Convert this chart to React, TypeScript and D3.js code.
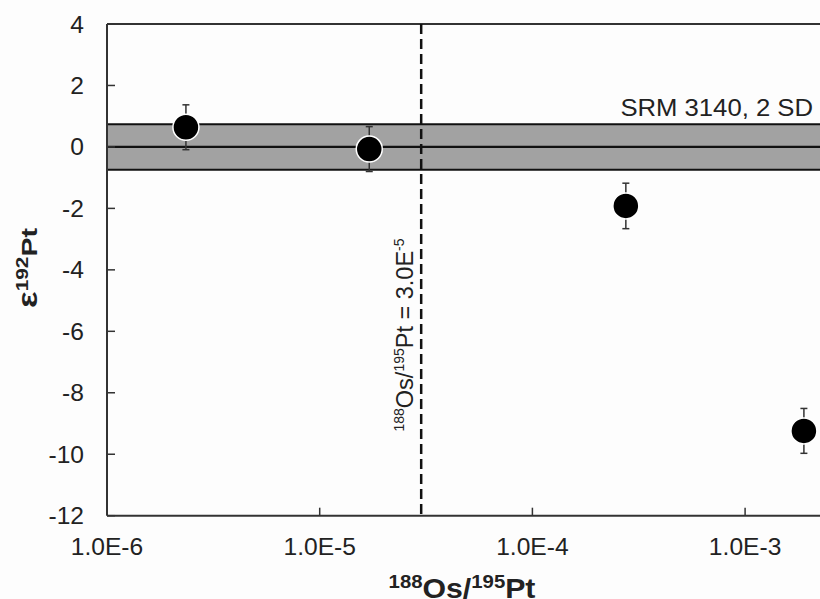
import React from "react";
import * as d3 from "d3";

const ratios = [2.35e-6, 1.71e-5, 2.75e-4, 1.89e-3];
const epsilon = [0.64, -0.07, -1.92, -9.24];
const errors = [0.73, 0.73, 0.74, 0.73];
const yTicks = [4, 2, 0, -2, -4, -6, -8, -10, -12];
const xTicks = [1e-6, 1e-5, 1e-4, 1e-3];
const xTickLabels = ["1.0E-6", "1.0E-5", "1.0E-4", "1.0E-3"];
const bandHalf = 0.74;
const cutoff = 3.0e-5;

const W = 820;
const H = 599;
const FONT = "'Liberation Sans', Arial, sans-serif";
const SX = 1.07;

export default function App() {
  const x = d3.scaleLog().domain([1e-6, 1e-2]).range([107, 107 + 4 * 212.7]);
  const y = d3.scaleLinear().domain([-12, 4]).range([515.7, 24]);
  const x0 = 107;
  const x1 = W;
  const axisColor = "#333";

  const Stretch = ({ tx, ty, anchor, size, weight, children }: any) => (
    <text
      transform={`translate(${tx},${ty}) scale(${SX},1)`}
      textAnchor={anchor}
      fontSize={size}
      fontWeight={weight}
      fontFamily={FONT}
      fill="#222"
    >
      {children}
    </text>
  );

  return (
    <svg width={W} height={H} style={{ position: "absolute", left: 0, top: 0, background: "#fff" }}>
      <rect x={0} y={0} width={W} height={H} fill="#fdfdfd" />
      {/* band */}
      <rect x={x0} y={y(bandHalf)} width={x1 - x0} height={y(-bandHalf) - y(bandHalf)} fill="#a2a2a2" />
      <line x1={x0} x2={x1} y1={y(bandHalf)} y2={y(bandHalf)} stroke="#111" strokeWidth={2} />
      <line x1={x0} x2={x1} y1={y(-bandHalf)} y2={y(-bandHalf)} stroke="#111" strokeWidth={2} />
      <line x1={x0} x2={x1} y1={y(0)} y2={y(0)} stroke="#111" strokeWidth={2.2} />
      {/* frame */}
      <line x1={x0} x2={x1} y1={y(4)} y2={y(4)} stroke={axisColor} strokeWidth={2} />
      <line x1={x0} x2={x0} y1={y(4)} y2={y(-12)} stroke={axisColor} strokeWidth={2} />
      <line x1={x0} x2={x1} y1={y(-12)} y2={y(-12)} stroke={axisColor} strokeWidth={2} />
      {/* y ticks */}
      {yTicks.map((t) => (
        <g key={t}>
          <line x1={x0} x2={x0 + 8} y1={y(t)} y2={y(t)} stroke={axisColor} strokeWidth={1.5} />
          <Stretch tx={84} ty={y(t) + 8.5} anchor="end" size={23}>
            {t}
          </Stretch>
        </g>
      ))}
      {/* x ticks */}
      {xTicks.map((t, i) => (
        <g key={t}>
          {i > 0 && <line x1={x(t)} x2={x(t)} y1={y(-12)} y2={y(-12) - 8} stroke={axisColor} strokeWidth={1.5} />}
          <Stretch tx={x(t)} ty={555} anchor="middle" size={23}>
            {xTickLabels[i]}
          </Stretch>
        </g>
      ))}
      {/* dashed cutoff */}
      <line
        x1={x(cutoff)}
        x2={x(cutoff)}
        y1={y(4)}
        y2={y(-12)}
        stroke="#111"
        strokeWidth={2.5}
        strokeDasharray="10,5"
      />
      <text
        transform={`translate(${x(cutoff) - 8},335) rotate(-90)`}
        textAnchor="middle"
        fontSize={23.5}
        fontFamily={FONT}
        fill="#222"
      >
        <tspan fontSize={14} dy={-9}>188</tspan>
        <tspan dy={9}>Os/</tspan>
        <tspan fontSize={14} dy={-9}>195</tspan>
        <tspan dy={9}>{"Pt = 3.0E"}</tspan>
        <tspan fontSize={14} dy={-9}>-5</tspan>
      </text>
      {/* SRM label */}
      <Stretch tx={813} ty={116} anchor="end" size={24}>
        SRM 3140, 2 SD
      </Stretch>
      {/* points */}
      {ratios.map((r, i) => {
        const cx = x(r);
        const cy = y(epsilon[i]);
        const yt = y(epsilon[i] + errors[i]);
        const yb = y(epsilon[i] - errors[i]);
        return (
          <g key={i}>
            <line x1={cx} x2={cx} y1={yt} y2={yb} stroke="#333" strokeWidth={1.5} />
            <line x1={cx - 3.5} x2={cx + 3.5} y1={yt} y2={yt} stroke="#333" strokeWidth={1.5} />
            <line x1={cx - 3.5} x2={cx + 3.5} y1={yb} y2={yb} stroke="#333" strokeWidth={1.5} />
            <circle cx={cx} cy={cy} r={13} fill="#000" stroke="#fff" strokeWidth={1.5} />
          </g>
        );
      })}
      {/* y title */}
      <text
        transform={`translate(37,268) rotate(-90) scale(1.3,1)`}
        textAnchor="middle"
        fontSize={22}
        fontWeight="bold"
        fontFamily={FONT}
        fill="#222"
      >
        <tspan fontSize={27}>ε</tspan>
        <tspan fontSize={16} dy={-9}>192</tspan>
        <tspan dy={9}>Pt</tspan>
      </text>
      {/* x title */}
      <text
        transform={`translate(462,598) scale(1.1,1)`}
        textAnchor="middle"
        fontSize={27.5}
        fontWeight="bold"
        fontFamily={FONT}
        fill="#222"
      >
        <tspan fontSize={18.5} dy={-10}>188</tspan>
        <tspan dy={10}>Os/</tspan>
        <tspan fontSize={18.5} dy={-10}>195</tspan>
        <tspan dy={10}>Pt</tspan>
      </text>
    </svg>
  );
}
